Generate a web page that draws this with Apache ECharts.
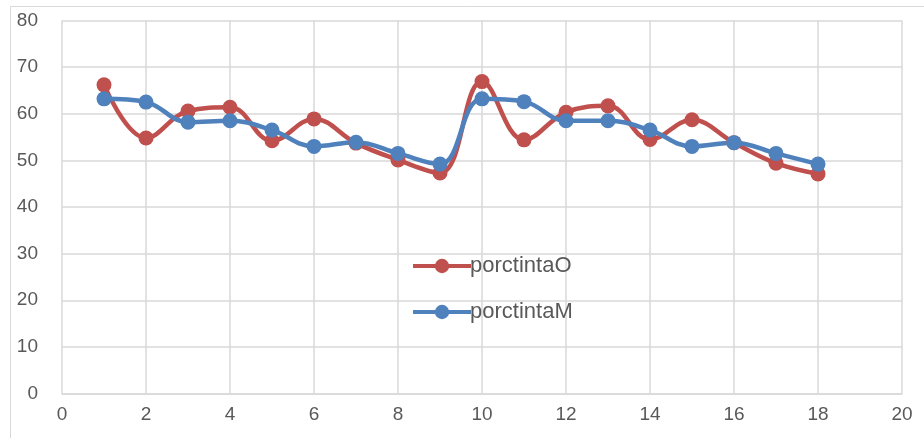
<!DOCTYPE html>
<html>
<head>
<meta charset="utf-8">
<script src="https://cdn.jsdelivr.net/npm/echarts@6/dist/echarts.min.js"></script>
<style>html,body{margin:0;padding:0;background:#fff}#c{width:924px;height:438px}</style>
</head>
<body>
<div id="c"></div>
<script>
const xValues = [1, 2, 3, 4, 5, 6, 7, 8, 9, 10, 11, 12, 13, 14, 15, 16, 17, 18];
const porctintaO = [66.2, 54.8, 60.6, 61.4, 54.2, 58.9, 53.7, 50.1, 47.3, 66.9, 54.4, 60.3, 61.7, 54.5, 58.7, 53.8, 49.4, 47.1];
const porctintaM = [63.2, 62.5, 58.2, 58.5, 56.5, 53.0, 53.9, 51.5, 49.2, 63.2, 62.6, 58.5, 58.5, 56.5, 53.0, 53.8, 51.5, 49.2];
const seriesNames = ['porctintaO', 'porctintaM'];
const colors = ['#C0504D', '#4F81BD'];

const pairs = arr => xValues.map((x, i) => [x, arr[i]]);
const chart = echarts.init(document.getElementById('c'), null, {renderer: 'canvas'});
const font = '"Liberation Sans", Arial, sans-serif';
chart.setOption({
  animation: false,
  backgroundColor: '#fff',
  graphic: [{
    type: 'rect', shape: {x: 10.5, y: 6.5, width: 930, height: 450},
    style: {fill: 'none', stroke: '#d9d9d9', lineWidth: 1}, silent: true
  }],
  grid: {left: 62, right: 22, top: 20.5, bottom: 44.5, containLabel: false},
  xAxis: {
    type: 'value', min: 0, max: 20, interval: 2,
    axisLine: {show: true, lineStyle: {color: '#d9d9d9', width: 1.5}},
    axisTick: {show: false},
    splitLine: {show: true, lineStyle: {color: '#d9d9d9', width: 1.5}},
    axisLabel: {color: '#595959', fontSize: 19, fontFamily: font, margin: 12}
  },
  yAxis: {
    type: 'value', min: 0, max: 80, interval: 10,
    axisLine: {show: false},
    axisTick: {show: false},
    splitLine: {show: true, lineStyle: {color: '#d9d9d9', width: 1.5}},
    axisLabel: {color: '#595959', fontSize: 19, fontFamily: font, margin: 24}
  },
  legend: {
    orient: 'vertical', left: 406, top: 250, itemGap: 24,
    itemWidth: 58, itemHeight: 18,
    data: seriesNames,
    lineStyle: {width: 4},
    textStyle: {color: '#595959', fontSize: 22, fontFamily: font, padding: [0, 0, 0, -6]}
  },
  series: [
    {
      name: seriesNames[0], type: 'line', smooth: 0.4,
      data: pairs(porctintaO), symbol: 'circle', symbolSize: 15,
      itemStyle: {color: colors[0]}, lineStyle: {color: colors[0], width: 4.5}
    },
    {
      name: seriesNames[1], type: 'line', smooth: 0.4,
      data: pairs(porctintaM), symbol: 'circle', symbolSize: 15,
      itemStyle: {color: colors[1]}, lineStyle: {color: colors[1], width: 4.5}
    }
  ]
});
</script>
</body>
</html>
